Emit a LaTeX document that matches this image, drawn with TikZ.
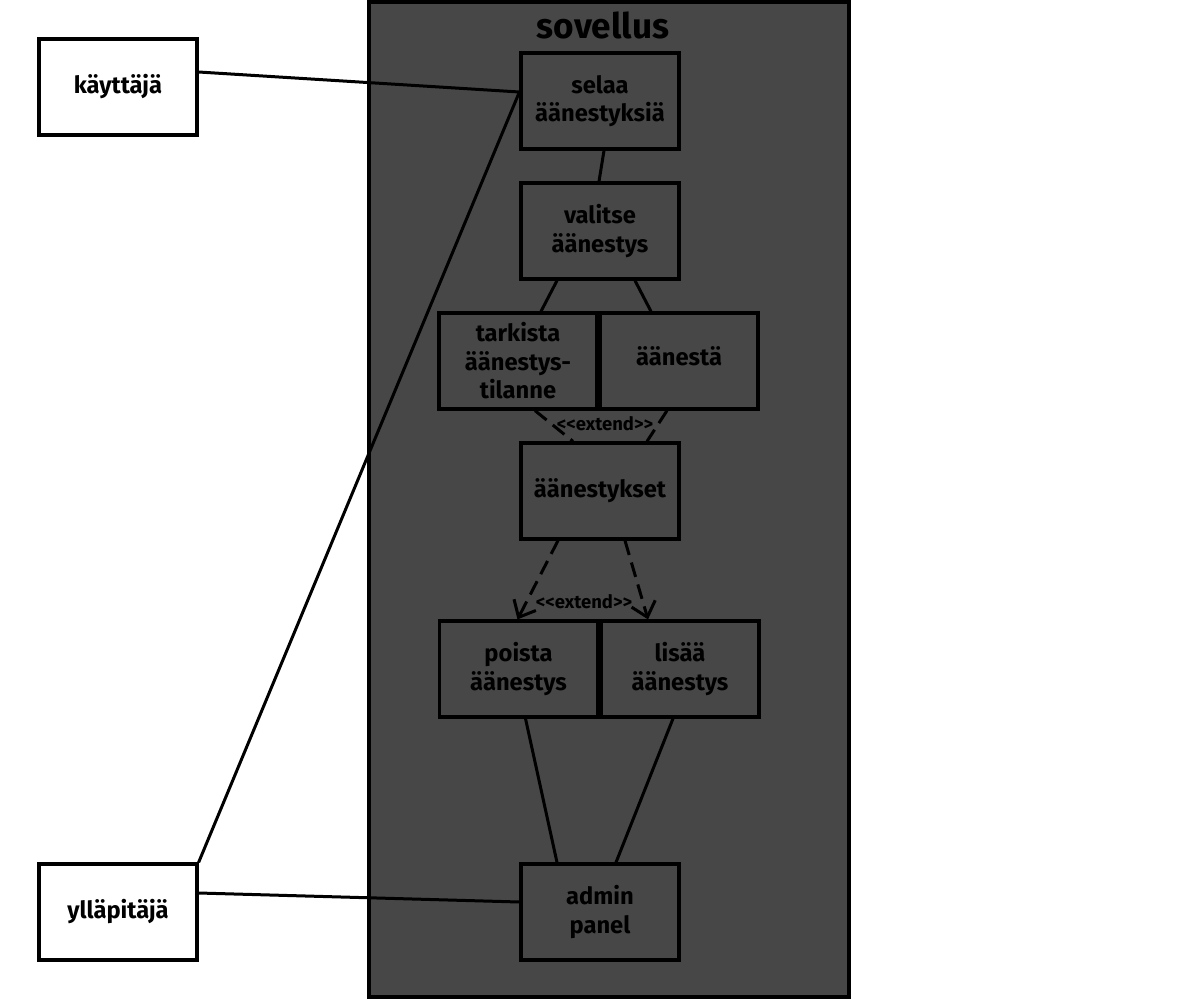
\documentclass[tikz,border=0pt]{standalone}
\usepackage{fontspec}
\setmainfont{Fira Sans}
\usetikzlibrary{calc,arrows.meta}
\definecolor{appgray}{RGB}{71,71,71}
\tikzset{
  ucbox/.style={draw=black, line width=0.065cm, minimum width=3.16cm, minimum height=1.92cm, inner sep=0pt, align=center, font=\fontsize{13.5}{16.2}\selectfont\bfseries},
  link/.style={draw=black, line width=0.06cm},
  extlink/.style={link, dash pattern=on 8.5pt off 4.5pt},
  extlbl/.style={font=\fontsize{10.5}{12}\selectfont\bfseries, inner sep=1pt},
}
\begin{document}
\begin{tikzpicture}[x=0.02cm, y=-0.02cm]
\useasboundingbox (0,0) rectangle (1200,1000);
\fill[white] (0,0) rectangle (1200,1000);
\filldraw[fill=appgray, draw=black, line width=0.08cm] (369,2) rectangle (849,997);
\node[font=\fontsize{20}{24}\selectfont\bfseries] (title) at (603,25) {sovellus};

\node[ucbox, fill=white] (kay) at (118,87) {käyttäjä};
\node[ucbox, fill=white] (yll) at (118,912) {ylläpitäjä};

\node[ucbox] (selaa) at (600,101) {selaa\\äänestyksiä};
\node[ucbox] (valitse) at (600,231) {valitse\\äänestys};
\node[ucbox] (tark) at (518,361) {tarkista\\äänestys-\\tilanne};
\node[ucbox] (aanesta) at (679,361) {\raisebox{6pt}{äänestä}};
\node[ucbox] (kaikki) at (600,491) {äänestykset};
\node[ucbox] (poista) at (518.5,669) {poista\\äänestys};
\node[ucbox] (lisaa) at (680,669) {lisää\\äänestys};
\node[ucbox] (admin) at (600,912) {admin\\panel};

\draw[link] ($(kay.east)+(0,-15)$) -- ($(selaa.west)+(0,-9)$);
\draw[link] (yll.north east) -- ($(selaa.west)+(0,-9)$);
\draw[link] ($(yll.east)+(0,-19)$) -- ($(admin.west)+(0,-10)$);
\draw[link] ($(selaa.south)+(4,0)$) -- ($(valitse.north)+(-1,0)$);
\draw[link] ($(valitse.south)+(-43,0)$) -- ($(tark.north)+(23,0)$);
\draw[link] ($(valitse.south)+(35,0)$) -- ($(aanesta.north)+(-28,0)$);
\draw[extlink] ($(tark.south)+(17,0)$) -- ($(kaikki.north)+(-27,0)$);
\draw[extlink] ($(aanesta.south)+(-12,0)$) -- ($(kaikki.north)+(47,0)$);
\node[extlbl] (ext1) at (605,424) {<{}<extend>{}>};
\draw[extlink, -{Straight Barb[length=8pt, width=14pt, line width=0.06cm]}] ($(kaikki.south)+(-42,0)$) -- ($(poista.north)+(-1,0)$);
\draw[extlink, -{Straight Barb[length=8pt, width=14pt, line width=0.06cm]}] ($(kaikki.south)+(25,0)$) -- ($(lisaa.north)+(-32,0)$);
\node[extlbl] (ext2) at (584,602) {<{}<extend>{}>};
\draw[link] ($(poista.south)+(7,0)$) -- ($(admin.north)+(-43,0)$);
\draw[link] ($(lisaa.south)+(-7,0)$) -- ($(admin.north)+(16,0)$);
\end{tikzpicture}
\end{document}
